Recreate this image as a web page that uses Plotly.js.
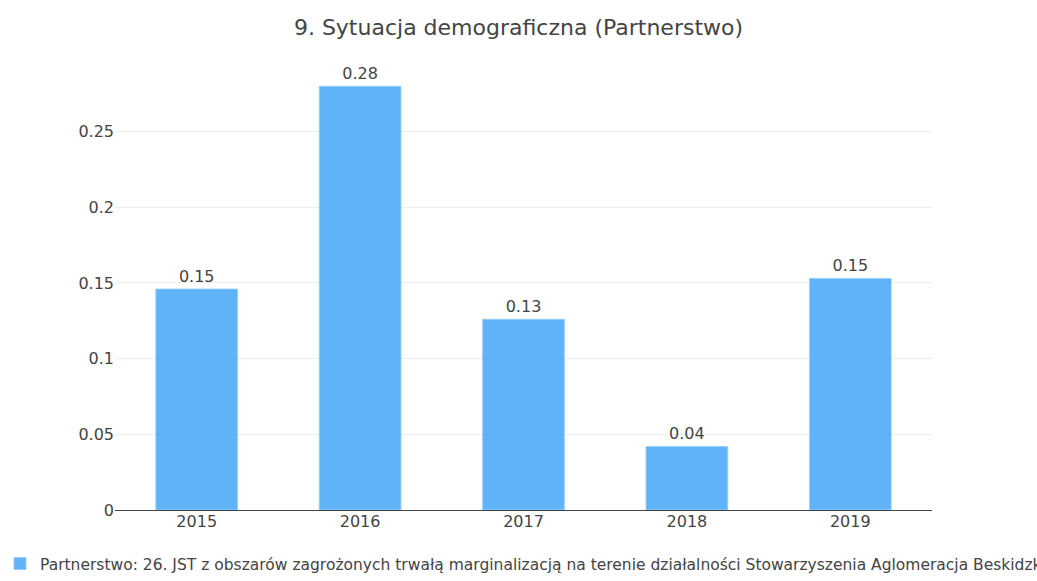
<!DOCTYPE html>
<html><head><meta charset="utf-8">
<script src="https://cdn.plot.ly/plotly-3.0.1.min.js"></script>
<style>html,body{margin:0;padding:0;background:#fff;}#chart{width:1037px;height:581px;}</style>
</head><body><div id="chart"></div>
<script>
const years = ['2015','2016','2017','2018','2019'];
const values = [0.146, 0.280, 0.126, 0.042, 0.153];
const seriesName = 'Partnerstwo: 26. JST z obszarów zagrożonych trwałą marginalizacją na terenie działalności Stowarzyszenia Aglomeracja Beskidzka';
const titleText = '9. Sytuacja demograficzna (Partnerstwo)';

const trace = {
  type: 'bar', x: years, y: values, name: seriesName,
  texttemplate: '%{y:.2f}', textposition: 'outside', cliponaxis: false,
  textfont: {size: 16, color: '#444'},
  marker: {color: 'rgba(33,150,243,0.72)', line: {color: 'rgba(150,205,255,0.9)', width: 1}},
  width: 0.5, showlegend: true, hoverinfo: 'x+y'
};
const layout = {
  width: 1037, height: 581,
  font: {family: 'DejaVu Sans, Verdana, sans-serif', size: 16, color: '#444'},
  title: {text: titleText, font: {size: 22, color: '#444'}, x: 0.5, xanchor: 'center', y: 0.953, yanchor: 'middle'},
  margin: {l: 115, r: 105, t: 64, b: 71},
  xaxis: {type: 'category', showgrid: false, ticks: '', tickfont: {size: 16}},
  yaxis: {range: [0, 0.2947], tickvals: [0, 0.05, 0.1, 0.15, 0.2, 0.25], ticktext: ['0','0.05','0.1','0.15','0.2','0.25'],
          gridcolor: '#eee', zeroline: true, zerolinecolor: '#444', zerolinewidth: 1, tickfont: {size: 16}},
  showlegend: true,
  legend: {orientation: 'h', xref: 'container', yref: 'container', x: 0.0, xanchor: 'left', y: -0.022, yanchor: 'bottom', font: {size: 15.5}},
  paper_bgcolor: '#fff', plot_bgcolor: '#fff'
};
Plotly.newPlot('chart', [trace], layout, {displayModeBar: false});
</script></body></html>
